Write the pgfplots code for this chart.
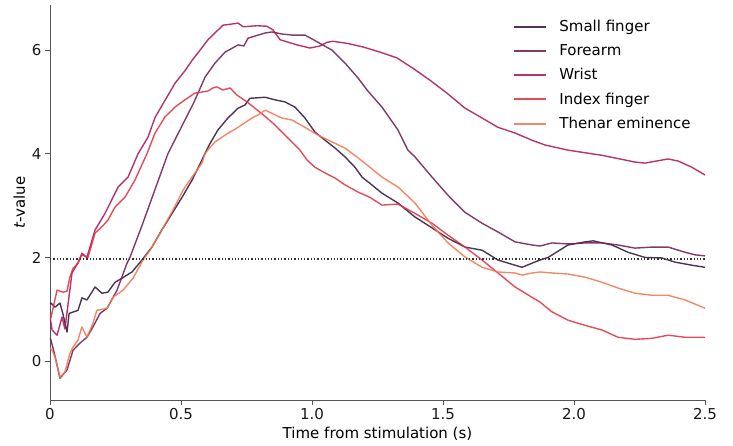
\documentclass[border=0pt]{standalone}
\usepackage{fontspec}
\setmainfont{DejaVu Sans}
\usepackage{pgfplots}
\pgfplotsset{compat=1.18}
\definecolor{cA}{HTML}{35193E}
\definecolor{cB}{HTML}{701F57}
\definecolor{cC}{HTML}{AD1759}
\definecolor{cD}{HTML}{E13342}
\definecolor{cE}{HTML}{F37651}
\definecolor{spine}{HTML}{555555}
\begin{document}
\begin{tikzpicture}
\begin{axis}[
  scale only axis, width=655pt, height=395pt,
  xmin=0, xmax=2.5, ymin=-0.75, ymax=6.87,
  axis x line*=bottom, axis y line*=left,
  axis line style={spine, line width=0.9pt, -},
  xtick={0,0.5,1,1.5,2,2.5}, xticklabels={0,0.5,1.0,1.5,2.0,2.5},
  ytick={0,2,4,6},
  tick align=outside, major tick length=5pt,
  tick style={spine, line width=0.9pt},
  /pgf/number format/assume math mode=true,
  ticklabel style={font=\fontsize{15}{17}\selectfont, text=black!90},
  label style={font=\fontsize{15}{17}\selectfont},
  xlabel={Time from stimulation (s)},
  ylabel={\textit{t}-value},
  legend cell align=left,
  legend style={at={(0.986,0.972)}, anchor=north east, draw=none, fill=none,
    font=\fontsize{15}{17}\selectfont, row sep=7.5pt,
    /tikz/every odd column/.append style={column sep=10pt}},
  legend image code/.code={\draw[#1, line width=1.9pt] (0pt,0pt) -- (32pt,0pt);},
  ln/.style={line width=1.4pt, line join=round, opacity=0.88},
]
% Small finger
\addplot[cA, ln] coordinates {
(0.000,1.10) (0.004,1.12) (0.019,1.04) (0.038,1.12) (0.050,0.90) (0.065,0.56) (0.073,0.92)
(0.107,0.98) (0.122,1.22) (0.141,1.18) (0.172,1.43) (0.198,1.31) (0.221,1.33) (0.248,1.52)
(0.275,1.60) (0.313,1.72) (0.351,1.95) (0.389,2.20) (0.427,2.53) (0.466,2.85) (0.504,3.16)
(0.542,3.49) (0.580,3.88) (0.592,4.01) (0.611,4.20) (0.641,4.46) (0.679,4.69) (0.718,4.88)
(0.744,4.94) (0.763,5.07) (0.821,5.09) (0.859,5.04) (0.897,5.00) (0.935,4.90) (0.973,4.69)
(1.011,4.42) (1.050,4.26) (1.088,4.11) (1.126,3.94) (1.164,3.74) (1.191,3.55) (1.221,3.43)
(1.267,3.24) (1.328,3.05) (1.393,2.78) (1.458,2.57) (1.519,2.37) (1.584,2.20) (1.649,2.14)
(1.710,1.95) (1.775,1.85) (1.802,1.81) (1.840,1.89) (1.870,1.95) (1.901,2.00) (1.977,2.24)
(2.042,2.30) (2.073,2.32) (2.145,2.24) (2.206,2.10) (2.271,2.00) (2.336,1.99) (2.385,1.91)
(2.450,1.85) (2.500,1.81)};
\addlegendentry{Small finger}
% Forearm
\addplot[cB, ln] coordinates {
(0.000,0.45) (0.004,0.40) (0.019,0.10) (0.038,-0.33) (0.065,-0.17) (0.088,0.21) (0.115,0.35)
(0.141,0.46) (0.164,0.66) (0.191,0.92) (0.218,1.02) (0.256,1.37) (0.294,1.89) (0.305,2.00)
(0.350,2.60) (0.400,3.30) (0.450,4.00) (0.500,4.50) (0.550,5.00) (0.592,5.48) (0.630,5.75)
(0.668,5.96) (0.718,6.10) (0.740,6.08) (0.756,6.23) (0.821,6.33) (0.847,6.35) (0.885,6.31)
(0.924,6.29) (0.973,6.29) (1.023,6.15) (1.076,6.00) (1.126,5.75) (1.176,5.46) (1.210,5.23)
(1.267,4.90) (1.328,4.46) (1.366,4.07) (1.393,3.94) (1.458,3.55) (1.519,3.20) (1.584,2.87)
(1.649,2.66) (1.710,2.49) (1.775,2.30) (1.840,2.24) (1.870,2.22) (1.916,2.28) (1.977,2.26)
(2.042,2.28) (2.107,2.28) (2.168,2.24) (2.233,2.18) (2.298,2.20) (2.359,2.20) (2.424,2.10)
(2.462,2.05) (2.500,2.03)};
\addlegendentry{Forearm}
% Wrist
\addplot[cC, ln] coordinates {
(0.000,0.85) (0.008,0.60) (0.027,0.50) (0.046,0.85) (0.057,0.62) (0.084,1.70) (0.107,1.90)
(0.122,2.08) (0.141,2.00) (0.172,2.53) (0.210,2.85) (0.260,3.36) (0.298,3.55) (0.336,4.00)
(0.374,4.32) (0.401,4.70) (0.439,5.03) (0.477,5.36) (0.515,5.60) (0.542,5.80) (0.573,6.00)
(0.603,6.20) (0.660,6.48) (0.690,6.50) (0.718,6.52) (0.737,6.45) (0.790,6.47) (0.828,6.46)
(0.851,6.39) (0.878,6.20) (0.943,6.10) (0.992,6.04) (1.031,6.08) (1.057,6.15) (1.080,6.17)
(1.134,6.13) (1.195,6.06) (1.260,5.96) (1.324,5.85) (1.385,5.65) (1.450,5.42) (1.515,5.17)
(1.584,4.88) (1.649,4.69) (1.710,4.51) (1.775,4.40) (1.840,4.26) (1.889,4.17) (1.977,4.07)
(2.107,3.97) (2.233,3.84) (2.271,3.82) (2.359,3.90) (2.397,3.86) (2.450,3.74) (2.500,3.59)};
\addlegendentry{Wrist}
% Index finger
\addplot[cD, ln] coordinates {
(0.000,0.80) (0.004,0.85) (0.027,1.37) (0.050,1.33) (0.065,1.35) (0.076,1.62) (0.088,1.79)
(0.107,1.89) (0.122,2.05) (0.145,2.00) (0.172,2.47) (0.198,2.59) (0.221,2.72) (0.248,2.97)
(0.286,3.16) (0.324,3.49) (0.370,4.00) (0.401,4.40) (0.439,4.71) (0.477,4.90) (0.515,5.04)
(0.553,5.17) (0.603,5.21) (0.622,5.27) (0.637,5.29) (0.660,5.23) (0.687,5.27) (0.714,5.13)
(0.752,5.00) (0.802,4.80) (0.851,4.59) (0.905,4.32) (0.954,4.07) (0.981,3.88) (1.011,3.74)
(1.050,3.63) (1.088,3.53) (1.126,3.40) (1.176,3.26) (1.221,3.16) (1.267,3.01) (1.328,3.03)
(1.393,2.85) (1.458,2.66) (1.519,2.43) (1.584,2.20) (1.649,1.95) (1.710,1.70) (1.775,1.43)
(1.840,1.23) (1.870,1.14) (1.916,0.95) (1.977,0.79) (2.042,0.69) (2.107,0.60) (2.168,0.46)
(2.233,0.42) (2.298,0.44) (2.359,0.50) (2.424,0.46) (2.500,0.46)};
\addlegendentry{Index finger}
% Thenar eminence
\addplot[cE, ln] coordinates {
(0.000,0.25) (0.008,0.21) (0.019,0.08) (0.038,-0.31) (0.057,-0.21) (0.076,0.15) (0.088,0.27)
(0.107,0.41) (0.122,0.66) (0.141,0.46) (0.164,0.73) (0.179,0.98) (0.218,1.02) (0.240,1.23)
(0.279,1.37) (0.317,1.60) (0.355,1.95) (0.382,2.14) (0.420,2.47) (0.469,2.91) (0.508,3.30)
(0.542,3.55) (0.580,3.82) (0.592,4.01) (0.630,4.23) (0.668,4.36) (0.718,4.51) (0.771,4.69)
(0.794,4.75) (0.821,4.84) (0.847,4.78) (0.885,4.69) (0.924,4.65) (0.973,4.51) (1.023,4.36)
(1.076,4.23) (1.126,4.11) (1.176,3.92) (1.221,3.74) (1.267,3.55) (1.328,3.36) (1.393,3.05)
(1.458,2.62) (1.519,2.28) (1.584,2.01) (1.649,1.81) (1.710,1.72) (1.775,1.70) (1.802,1.66)
(1.840,1.70) (1.870,1.72) (1.916,1.70) (1.977,1.68) (2.042,1.62) (2.107,1.52) (2.168,1.41)
(2.233,1.31) (2.298,1.27) (2.359,1.27) (2.424,1.18) (2.500,1.02)};
\addlegendentry{Thenar eminence}
\addplot[dash pattern=on 1.3pt off 2pt, black!80, line width=1.3pt, forget plot] coordinates {(0,1.97) (2.5,1.97)};
\end{axis}
\pgfresetboundingbox
\path[use as bounding box] ([xshift=-50pt,yshift=-46pt]current axis.south west) rectangle ([xshift=28pt,yshift=5pt]current axis.north east);
\end{tikzpicture}
\end{document}
